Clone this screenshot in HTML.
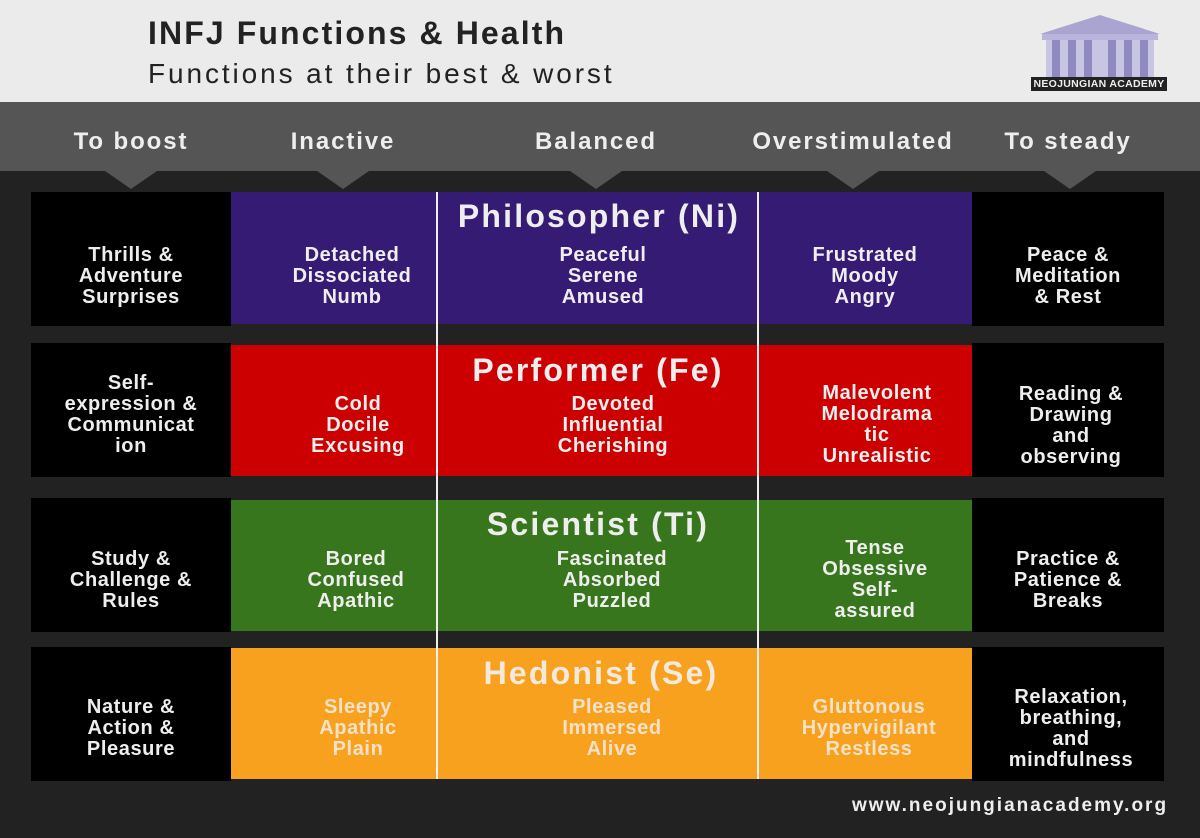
<!DOCTYPE html>
<html><head><meta charset="utf-8"><style>
*{margin:0;padding:0;box-sizing:border-box}
body{width:1200px;height:838px;position:relative;background:#222;font-family:"Liberation Sans",sans-serif;overflow:hidden}
.a{position:absolute}
.t{position:absolute;text-align:center;color:#eee;font-weight:bold;font-size:20px;line-height:21px;letter-spacing:.6px;white-space:nowrap;transform:translateX(-50%)}
.h{position:absolute;color:#eee;font-weight:bold;font-size:24px;letter-spacing:1.9px;top:128px;transform:translateX(-50%);white-space:nowrap}
.ti{font-size:32px;line-height:36px;letter-spacing:2.2px}
.tri{position:absolute;top:171px;width:0;height:0;border-left:26px solid transparent;border-right:26px solid transparent;border-top:18px solid #555;transform:translateX(-50%)}
</style></head><body>
<div class="a" style="left:0;top:0;width:1200px;height:102px;background:#ebebeb"></div>
<div class="a" style="left:148px;top:15px;font-size:32px;font-weight:bold;color:#222;letter-spacing:2.1px;white-space:nowrap">INFJ Functions &amp; Health</div>
<div class="a" style="left:148px;top:58px;font-size:28px;color:#222;letter-spacing:2.9px;white-space:nowrap">Functions at their best &amp; worst</div>
<svg class="a" style="left:1030px;top:12px" width="140" height="80" viewBox="0 0 140 80">
<polygon points="10,22 70,3 130,22" fill="#a9a5d0"/>
<rect x="12" y="22" width="116" height="6" fill="#b8b4dc"/>
<rect x="16" y="28" width="108" height="40" fill="#c8c5e4"/>
<g fill="#8f8abf"><rect x="22" y="28" width="8" height="40"/><rect x="38" y="28" width="8" height="40"/><rect x="54" y="28" width="8" height="40"/><rect x="78" y="28" width="8" height="40"/><rect x="94" y="28" width="8" height="40"/><rect x="110" y="28" width="8" height="40"/></g>
<rect x="8" y="66" width="124" height="4" fill="#a9a5d0"/>
<rect x="4" y="70" width="132" height="3" fill="#9c98c8"/>
</svg>
<div class="a" style="left:1031px;top:77px;width:136px;height:14px;background:#222;color:#eee;font-size:10.5px;font-weight:bold;text-align:center;line-height:14px;letter-spacing:.3px">NEOJUNGIAN ACADEMY</div>
<div class="a" style="left:0;top:102px;width:1200px;height:69px;background:#555"></div>
<div class="h" style="left:131px">To boost</div>
<div class="h" style="left:343px">Inactive</div>
<div class="h" style="left:596px">Balanced</div>
<div class="h" style="left:853px">Overstimulated</div>
<div class="h" style="left:1068px">To steady</div>
<div class="tri" style="left:131px"></div><div class="tri" style="left:343px"></div><div class="tri" style="left:596px"></div><div class="tri" style="left:853px"></div><div class="tri" style="left:1070px"></div>
<div class="a" style="left:31px;top:192px;width:200px;height:134px;background:#000"></div>
<div class="a" style="left:231px;top:192px;width:741px;height:132px;background:#361b74"></div>
<div class="a" style="left:972px;top:192px;width:192px;height:134px;background:#000"></div>
<div class="a" style="left:31px;top:343px;width:200px;height:134px;background:#000"></div>
<div class="a" style="left:231px;top:345px;width:741px;height:131px;background:#cc0000"></div>
<div class="a" style="left:972px;top:343px;width:192px;height:134px;background:#000"></div>
<div class="a" style="left:31px;top:498px;width:200px;height:134px;background:#000"></div>
<div class="a" style="left:231px;top:500px;width:741px;height:131px;background:#38761d"></div>
<div class="a" style="left:972px;top:498px;width:192px;height:134px;background:#000"></div>
<div class="a" style="left:31px;top:647px;width:200px;height:134px;background:#000"></div>
<div class="a" style="left:231px;top:648px;width:741px;height:131px;background:#f8a11f"></div>
<div class="a" style="left:972px;top:647px;width:192px;height:134px;background:#000"></div>
<div class="a" style="left:436px;top:192px;width:2px;height:587px;background:#eee"></div>
<div class="a" style="left:757px;top:192px;width:2px;height:587px;background:#eee"></div>
<div class="t" style="left:131px;top:245px">Thrills &amp;<br>Adventure<br>Surprises</div>
<div class="t" style="left:352px;top:245px">Detached<br>Dissociated<br>Numb</div>
<div class="t ti" style="left:599px;top:198px">Philosopher (Ni)</div>
<div class="t" style="left:603px;top:245px">Peaceful<br>Serene<br>Amused</div>
<div class="t" style="left:865px;top:245px">Frustrated<br>Moody<br>Angry</div>
<div class="t" style="left:1068px;top:245px">Peace &amp;<br>Meditation<br>&amp; Rest</div>
<div class="t" style="left:131px;top:373px">Self-<br>expression &amp;<br>Communicat<br>ion</div>
<div class="t" style="left:358px;top:394px">Cold<br>Docile<br>Excusing</div>
<div class="t ti" style="left:598px;top:352px">Performer (Fe)</div>
<div class="t" style="left:613px;top:394px">Devoted<br>Influential<br>Cherishing</div>
<div class="t" style="left:877px;top:383px">Malevolent<br>Melodrama<br>tic<br>Unrealistic</div>
<div class="t" style="left:1071px;top:384px">Reading &amp;<br>Drawing<br>and<br>observing</div>
<div class="t" style="left:131px;top:549px">Study &amp;<br>Challenge &amp;<br>Rules</div>
<div class="t" style="left:356px;top:549px">Bored<br>Confused<br>Apathic</div>
<div class="t ti" style="left:598px;top:506px">Scientist (Ti)</div>
<div class="t" style="left:612px;top:549px">Fascinated<br>Absorbed<br>Puzzled</div>
<div class="t" style="left:875px;top:538px">Tense<br>Obsessive<br>Self-<br>assured</div>
<div class="t" style="left:1068px;top:549px">Practice &amp;<br>Patience &amp;<br>Breaks</div>
<div class="t" style="left:131px;top:697px">Nature &amp;<br>Action &amp;<br>Pleasure</div>
<div class="t" style="left:358px;top:697px;color:#f3e2c8">Sleepy<br>Apathic<br>Plain</div>
<div class="t ti" style="left:601px;top:655px;color:#f3e9dc">Hedonist (Se)</div>
<div class="t" style="left:612px;top:697px;color:#f3e2c8">Pleased<br>Immersed<br>Alive</div>
<div class="t" style="left:869px;top:697px;color:#f3e2c8">Gluttonous<br>Hypervigilant<br>Restless</div>
<div class="t" style="left:1071px;top:687px">Relaxation,<br>breathing,<br>and<br>mindfulness</div>
<div class="a" style="left:852px;top:795px;color:#eee;font-weight:bold;font-size:19px;letter-spacing:2px;white-space:nowrap">www.neojungianacademy.org</div>
</body></html>
